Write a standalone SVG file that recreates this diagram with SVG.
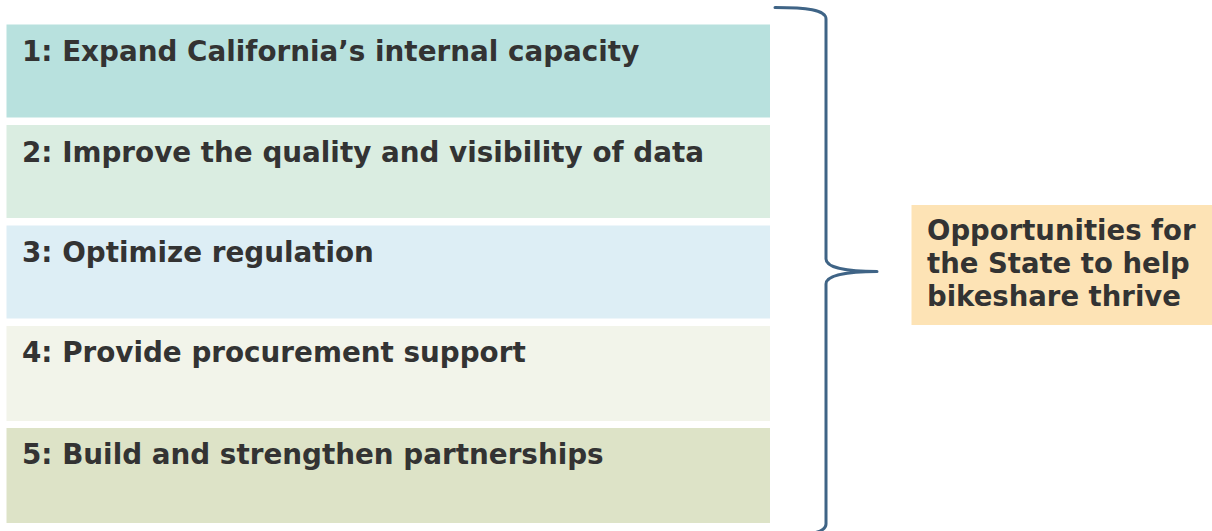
<svg xmlns="http://www.w3.org/2000/svg" width="1212" height="531" viewBox="0 0 1212 531">
  <style>
    .label { font-family: "DejaVu Sans", Verdana, sans-serif; font-weight: bold; font-size: 27.8px; fill: #333333; }
    .side { font-size: 27.5px; }
    .brace { fill: none; stroke: #3F6486; stroke-width: 3; stroke-linecap: round; stroke-linejoin: round; }
  </style>
  <rect width="1212" height="531" fill="#ffffff"/>

  <g id="item-1">
    <rect x="6.5" y="24.5" width="763.5" height="93" fill="#B8E1DE"/>
    <text class="label" x="22" y="61">1: Expand California’s internal capacity</text>
  </g>
  <g id="item-2">
    <rect x="6.5" y="125" width="763.5" height="93" fill="#DAEDE1"/>
    <text class="label" x="22" y="161.5">2: Improve the quality and visibility of data</text>
  </g>
  <g id="item-3">
    <rect x="6.5" y="225.5" width="763.5" height="93" fill="#DDEEF5"/>
    <text class="label" x="22" y="261.5">3: Optimize regulation</text>
  </g>
  <g id="item-4">
    <rect x="6.5" y="326" width="763.5" height="95" fill="#F2F4EA"/>
    <text class="label" x="22" y="362">4: Provide procurement support</text>
  </g>
  <g id="item-5">
    <rect x="6.5" y="428" width="763.5" height="95" fill="#DDE3C7"/>
    <text class="label" x="22" y="464">5: Build and strengthen partnerships</text>
  </g>

  <g id="connectors">
    <path class="brace" d="M775,7.5 C806,7.5 826,9.5 826,19 L826,259 C826,267.5 846,271.5 877,271.5 C846,271.5 826,275.5 826,284 L826,524 C826,533.5 806,535.5 775,535.5"/>
  </g>

  <g id="summary">
    <rect x="911.5" y="205" width="300.5" height="120" fill="#FDE3B5"/>
    <text class="label side" x="927" y="240">Opportunities for</text>
    <text class="label side" x="927" y="273">the State to help</text>
    <text class="label side" x="927" y="306">bikeshare thrive</text>
  </g>
</svg>
